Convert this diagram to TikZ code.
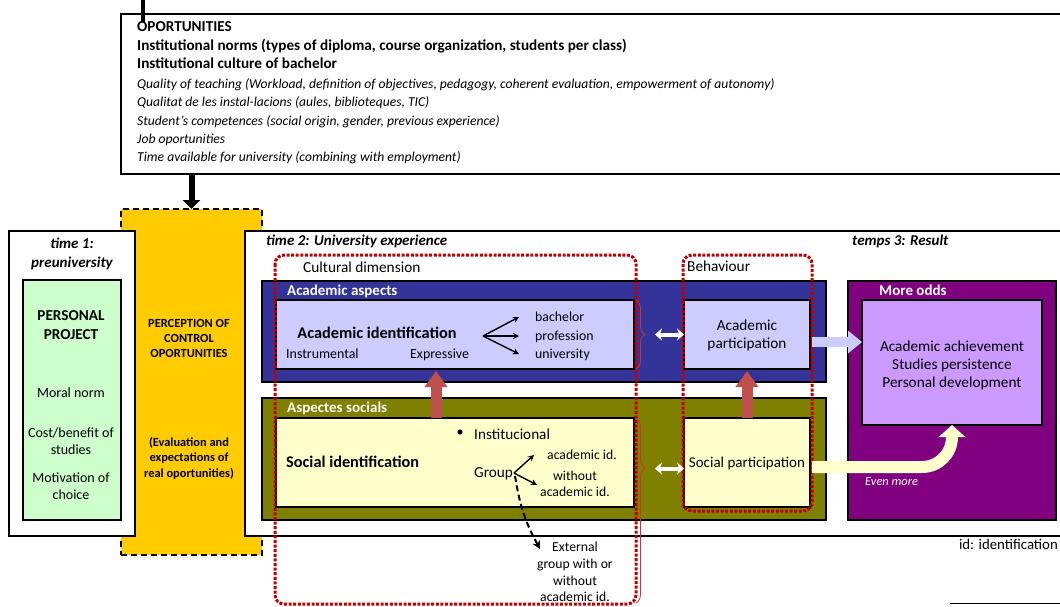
\documentclass[tikz,border=0pt]{standalone}
\usepackage{fontspec}
\setmainfont{Carlito}
\usetikzlibrary{arrows.meta,decorations.pathreplacing}
\definecolor{acblue}{HTML}{333399}
\definecolor{aclight}{HTML}{CCCCFF}
\definecolor{olivegr}{HTML}{808000}
\definecolor{socyel}{HTML}{FFFFCC}
\definecolor{ppgreen}{HTML}{CCFFCC}
\definecolor{percgold}{HTML}{FFCC00}
\definecolor{oddpurp}{HTML}{800080}
\definecolor{reslilac}{HTML}{CC99FF}
\definecolor{redbr}{HTML}{C0504D}
\definecolor{dotred}{HTML}{C00000}
\newcommand{\fs}[2]{\fontsize{#1}{#2}\selectfont}
\tikzset{
  blk/.style 2 args={draw, line width=2pt, inner sep=0pt, outer sep=0pt,
    anchor=north west, minimum width=#1pt, minimum height=#2pt},
  lbl/.style={inner sep=0pt, text height=2.1ex, text depth=.2ex},
  mline/.style={align=center, inner sep=0pt},
  dimbox/.style={draw=dotred, line width=3pt, dash pattern=on 3pt off 1.6pt, rounded corners=9pt},
  brc/.style={draw=dotred!80, line width=.8pt, decorate},
  farr/.style={line width=1.4pt, -{Stealth[length=6pt,width=6pt]}},
  warr/.style={white, line width=4pt, {Stealth[length=7pt,width=12pt]}-{Stealth[length=7pt,width=12pt]}},
  uarr/.style={redbr, line width=11pt, -{Triangle[width=22pt,length=16pt]}, shorten >=2pt},
}
\begin{document}
\begin{tikzpicture}[x=1pt,y=-1pt]
\useasboundingbox (0,0) rectangle (1060,606);

% oportunities
\node[blk={945}{160}, line width=2.6pt] (opp) at (121,14) {};
\coordinate (oppin) at (143,-2);
\draw[line width=4pt] (oppin) -- (143,22);
\foreach \t/\y [count=\i] in {OPORTUNITIES/27,
    {Institutional norms (types of diploma, course organization, students per class)}/46,
    Institutional culture of bachelor/64}
  \node[lbl, anchor=west, font=\bfseries\fs{15.2}{18}] (ob\i) at (137,\y) {\t};
\foreach \t/\y [count=\i] in {{Quality of teaching (Workload, definition of objectives, pedagogy, coherent evaluation, empowerment of autonomy)}/84,
    {Qualitat de les instal-lacions (aules, biblioteques, TIC)}/102,
    {Student’s competences (social origin, gender, previous experience)}/121,
    Job oportunities/139,
    Time available for university (combining with employment)/157}
  \node[lbl, anchor=west, font=\itshape\fs{13.6}{16}] (oi\i) at (137,\y) {\t};

% perception
\node[blk={141}{346}, fill=percgold, dash pattern=on 6pt off 4pt] (perc) at (121,209) {};
\draw[line width=6pt, -{Triangle[width=17pt,length=9pt]}] (opp.south -| perc.north) -- (perc.north);

% time 1
\node[blk={126}{305}, fill=white, line width=1.5pt] (t1) at (9,231) {};
\node[blk={830}{305}, fill=white, line width=1.5pt] (t2) at (245,231) {};
\node[mline, font=\bfseries\itshape\fs{15}{19}] (t1l) at (72,254) {time 1:\\preuniversity};
\node[blk={98}{240}, fill=ppgreen] (pp) at (23,280) {};
\node[mline, font=\bfseries\fs{15.2}{18.5}] (ppl) at (71,325) {PERSONAL\\PROJECT};
\node[lbl, font=\fs{14}{17}] (moral) at (71,393) {Moral norm};
\node[mline, font=\fs{14}{17}] (cost) at (71,441) {Cost/benefit of\\studies};
\node[mline, font=\fs{14}{17}] (motiv) at (71,486) {Motivation of\\choice};

\node[mline, font=\bfseries\fs{12.4}{15}] (percl) at (189,338) {PERCEPTION OF\\CONTROL\\OPORTUNITIES};
\node[mline, font=\bfseries\fs{12.4}{15.5}] (evall) at (189,458) {(Evaluation and\\expectations of\\real oportunities)};

% time 2 and 3
\node[lbl, anchor=west, font=\bfseries\itshape\fs{15}{18}] (t2l) at (266,241) {time 2: University experience};
\node[lbl, anchor=west, font=\bfseries\itshape\fs{15}{18}] (t3l) at (852,241) {temps 3: Result};

\node[blk={564}{101}, fill=acblue] (aa) at (262,281) {};
\node[blk={358}{69}, fill=aclight] (aid) at (276,300) {};
\node[blk={126}{69}, fill=aclight] (ap) at (684,300) {};
\node[blk={564}{122}, fill=olivegr] (as) at (262,398) {};
\node[blk={358}{89}, fill=socyel] (sid) at (276,418) {};
\node[blk={126}{89}, fill=socyel] (sp) at (684,418) {};
\node[blk={208}{239}, fill=oddpurp] (mo) at (848,281) {};
\node[blk={180}{125}, fill=reslilac] (res) at (862,300) {};

\node[lbl, anchor=west, white, font=\bfseries\fs{15}{18}] (aal) at (287,291) {Academic aspects};
\node[lbl, anchor=west, white, font=\bfseries\fs{15}{18}] (asl) at (287,408) {Aspectes socials};
\node[lbl, anchor=west, white, font=\bfseries\fs{15}{18}] (mol) at (879,291) {More odds};

% academic identification
\node[lbl, font=\bfseries\fs{16.3}{19}] (aidl) at (377,334) {Academic identification};
\node[lbl, anchor=west, font=\fs{13.9}{16}] (instr) at (286,354) {Instrumental};
\node[lbl, anchor=west, font=\fs{13.9}{16}] (expr) at (410,354) {Expressive};
\coordinate (fan) at (483,336);
\node[lbl, anchor=west, font=\fs{13.8}{16}] (bach) at (535,317) {bachelor};
\node[lbl, anchor=west, font=\fs{13.8}{16}] (prof) at (535,336) {profession};
\node[lbl, anchor=west, font=\fs{13.8}{16}] (univ) at (535,354) {university};
\foreach \n in {bach,prof,univ}
  \draw[farr] (fan) -- ([xshift=-16pt]\n.west);
\node[mline, font=\fs{15.3}{18}] (apl) at (747,335) {Academic\\participation};

% social identification
\node[lbl, anchor=west, font=\bfseries\fs{16.3}{19}] (sidl) at (286,463) {Social identification};
\fill (460,432) circle (2.6pt);
\node[lbl, anchor=west, font=\fs{15.2}{18}] (inst) at (474,435) {Institucional};
\node[lbl, anchor=west, font=\fs{15.2}{18}] (grp) at (474,473) {Group};
\node[lbl, font=\fs{13.7}{16}] (acid) at (582,455) {academic id.};
\node[mline, font=\fs{13.7}{16}] (woid) at (575,484) {without\\academic id.};
\node[mline, font=\fs{13.7}{16.7}] (ext) at (575,572) {External\\group with or\\without\\academic id.};
\draw[farr] ([xshift=1pt]grp.east) -- ([xshift=-13pt]acid.west);
\draw[farr] ([xshift=1pt]grp.east) -- ([xshift=-3pt,yshift=-1pt]woid.west);
\draw[line width=2pt, dash pattern=on 6pt off 3.5pt, -{Stealth[length=8pt,width=8pt]}]
  ([xshift=2pt,yshift=-3pt]grp.east) to[bend right=10] ([xshift=3pt,yshift=-7pt]ext.north west);
\node[lbl, font=\fs{15}{18}] (spl) at (747,463) {Social participation};

% dimensions
\draw[dimbox] (275,255) rectangle (636,604);
\draw[dimbox] (683,255) rectangle (812,511);
\node[lbl, anchor=west, font=\fs{15.3}{18}] (cult) at (303,268) {Cultural dimension};
\node[lbl, anchor=west, font=\fs{15.3}{18}] (behav) at (687,267) {Behaviour};

% braces and links
\coordinate (bend) at (634,603);
\draw[brc, decoration={brace, amplitude=9pt, raise=2pt}] (aid.north east) -- (aid.south east);
\draw[brc, decoration={brace, amplitude=9pt, aspect=0.27, raise=2pt}] (sid.north east) -- (bend);
\draw[warr, shorten <=21pt] (aid.east) -- (ap.west);
\draw[warr, shorten <=21pt] ([yshift=-6pt]sid.east) -- ([yshift=-6pt]sp.west);
\draw[uarr] ([xshift=-19pt]sid.north) -- ([xshift=-19pt]aid.south);
\draw[uarr] (sp.north) -- (ap.south);

% results
\coordinate (blu) at ([yshift=-7.5pt]ap.east);
\draw[aclight, line width=10pt, -{Triangle[width=22pt,length=14pt]}] ([xshift=2pt]blu) -- (blu -| res.west);
\draw[socyel, line width=12pt, -{Triangle[width=26pt,length=12pt]}]
  ([xshift=2pt,yshift=-4.5pt]sp.east) -- (922,467) to[out=0,in=-90] (952,437) -- (res.south);
\node[mline, font=\fs{15.3}{18}] (resl) at (952,365) {Academic achievement\\Studies persistence\\Personal development};
\node[lbl, anchor=west, white, font=\itshape\fs{12.4}{15}] (even) at (865,481) {Even more};

\node[lbl, anchor=east, font=\fs{14.8}{18}] (idl) at (1058,545) {id: identification};
\coordinate (rl) at (950,603);
\draw[line width=1pt] (rl) -- (1062,603);
\end{tikzpicture}
\end{document}
